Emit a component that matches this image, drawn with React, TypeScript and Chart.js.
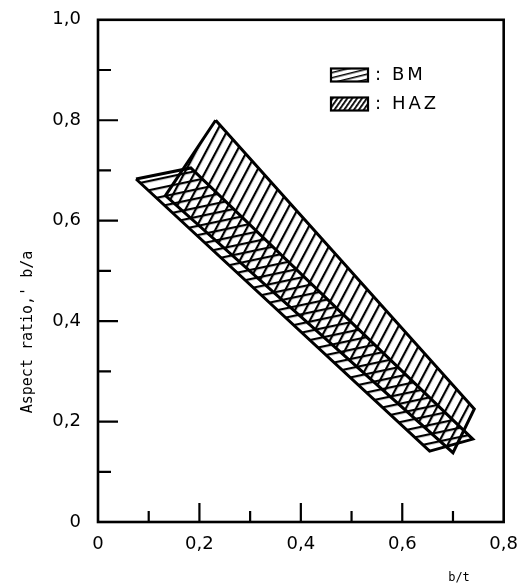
import React, { useEffect, useRef } from "react";
import { Chart, registerables } from "chart.js";

Chart.register(...registerables);

// Upper band (steep hatch) – HAZ
const hazX = [0.232, 0.742, 0.7, 0.133, 0.232];
const hazY = [0.8, 0.225, 0.138, 0.65, 0.8];
// Lower band (shallow hatch) – BM
const bmX = [0.075, 0.183, 0.739, 0.654, 0.075];
const bmY = [0.683, 0.705, 0.165, 0.141, 0.683];

const xTickLabels = ["0", "0,2", "0,4", "0,6", "0,8"];
const yTickLabels = ["0", "0,2", "0,4", "0,6", "0,8", "1,0"];
const xTitle = "b/t";
const yTitle = "Aspect ratio,' b/a";
const seriesLabels = ["BM", "HAZ"];

function makeHatch(spacing: number, angleDeg: number, lineW: number): CanvasPattern {
  const c = document.createElement("canvas");
  c.width = 16;
  c.height = spacing;
  const g = c.getContext("2d")!;
  g.fillStyle = "#000";
  g.fillRect(0, 0, 16, lineW);
  const p = g.createPattern(c, "repeat")!;
  p.setTransform(new DOMMatrix().rotateSelf(angleDeg));
  return p;
}

export default function App() {
  const ref = useRef<HTMLCanvasElement>(null);

  useEffect(() => {
    document.body.style.margin = "0";
    const canvas = ref.current!;
    const bmPattern = makeHatch(9, -12, 2.2);
    const hazPattern = makeHatch(9, -62, 2.2);
    const bmLegendPattern = makeHatch(5, -14, 1.5);
    const hazLegendPattern = makeHatch(4, -55, 1.8);

    const decor = {
      id: "decor",
      afterDraw(chart: any) {
        const { ctx, chartArea: a, scales } = chart;
        const x = scales.x;
        const y = scales.y;
        ctx.save();
        ctx.strokeStyle = "#000";
        ctx.lineWidth = 2.6;
        ctx.strokeRect(a.left, a.top, a.right - a.left, a.bottom - a.top);
        ctx.lineWidth = 2.2;
        ctx.beginPath();
        x.ticks.forEach((t: any, i: number) => {
          if (i === 0 || i === x.ticks.length - 1) return;
          const px = x.getPixelForValue(t.value);
          const len = i % 2 === 0 ? 19 : 11;
          ctx.moveTo(px, a.bottom);
          ctx.lineTo(px, a.bottom - len);
        });
        y.ticks.forEach((t: any, i: number) => {
          if (i === 0 || i === y.ticks.length - 1) return;
          const py = y.getPixelForValue(t.value);
          const len = i % 2 === 0 ? 20 : 13;
          ctx.moveTo(a.left, py);
          ctx.lineTo(a.left + len, py);
        });
        ctx.stroke();

        // axis titles
        ctx.fillStyle = "#000";
        ctx.font = '15px "DejaVu Sans Mono"';
        ctx.textAlign = "center";
        ctx.textBaseline = "middle";
        ctx.save();
        ctx.translate(28, 332);
        ctx.rotate(-Math.PI / 2);
        ctx.fillText(yTitle, 0, 0);
        ctx.restore();
        ctx.font = '12px "DejaVu Sans Mono"';
        ctx.fillText(xTitle, 459, 578);

        // legend (inside plot, top right)
        const pats = [bmLegendPattern, hazLegendPattern];
        const rows = [75, 104];
        seriesLabels.forEach((lab, i) => {
          const cy = rows[i];
          const bx = 331, bw = 37, bh = 13;
          ctx.fillStyle = pats[i];
          ctx.fillRect(bx, cy - bh / 2, bw, bh);
          ctx.lineWidth = 2.2;
          ctx.strokeStyle = "#000";
          ctx.strokeRect(bx, cy - bh / 2, bw, bh);
          ctx.fillStyle = "#000";
          ctx.font = '18px "DejaVu Sans"';
          ctx.textAlign = "left";
          (ctx as any).letterSpacing = "3px";
          ctx.fillText(":", 375, cy);
          ctx.fillText(lab, 392, cy);
          (ctx as any).letterSpacing = "0px";
        });
        ctx.restore();
      },
    };

    const toPts = (xs: number[], ys: number[]) => xs.map((v, i) => ({ x: v, y: ys[i] }));

    const chart = new Chart(canvas, {
      type: "scatter",
      data: {
        datasets: [
          {
            label: seriesLabels[0],
            data: toPts(bmX, bmY),
            showLine: true,
            fill: "shape",
            backgroundColor: bmPattern,
            borderColor: "#000",
            borderWidth: 3,
            pointRadius: 0,
            borderJoinStyle: "miter",
          } as any,
          {
            label: seriesLabels[1],
            data: toPts(hazX, hazY),
            showLine: true,
            fill: "shape",
            backgroundColor: hazPattern,
            borderColor: "#000",
            borderWidth: 3,
            pointRadius: 0,
            borderJoinStyle: "miter",
          } as any,
        ],
      },
      options: {
        animation: false,
        responsive: false,
        devicePixelRatio: 1,
        layout: { padding: { top: 13, right: 14, left: 0, bottom: 0 } },
        plugins: { legend: { display: false }, tooltip: { enabled: false } },
        scales: {
          x: {
            type: "linear",
            min: 0,
            max: 0.8,
            grid: { display: false },
            border: { display: false },
            afterFit: (s: any) => {
              s.height = 66;
            },
            ticks: {
              stepSize: 0.1,
              autoSkip: false,
              maxRotation: 0,
              padding: 4,
              color: "#000",
              font: { family: '"DejaVu Sans"', size: 18 },
              callback: (_v: any, i: number) => (i % 2 === 0 ? xTickLabels[i / 2] : ""),
            },
          },
          y: {
            type: "linear",
            min: 0,
            max: 1,
            grid: { display: false },
            border: { display: false },
            afterFit: (s: any) => {
              s.width = 98;
            },
            ticks: {
              stepSize: 0.1,
              autoSkip: false,
              padding: 9,
              color: "#000",
              font: { family: '"DejaVu Sans"', size: 18 },
              callback: (_v: any, i: number) => (i % 2 === 0 ? yTickLabels[i / 2] : ""),
            },
          },
        },
      },
      plugins: [decor],
    });
    return () => chart.destroy();
  }, []);

  return (
    <div style={{ width: 522, height: 588 }}>
      <canvas ref={ref} width={522} height={588} style={{ display: "block" }} />
    </div>
  );
}
